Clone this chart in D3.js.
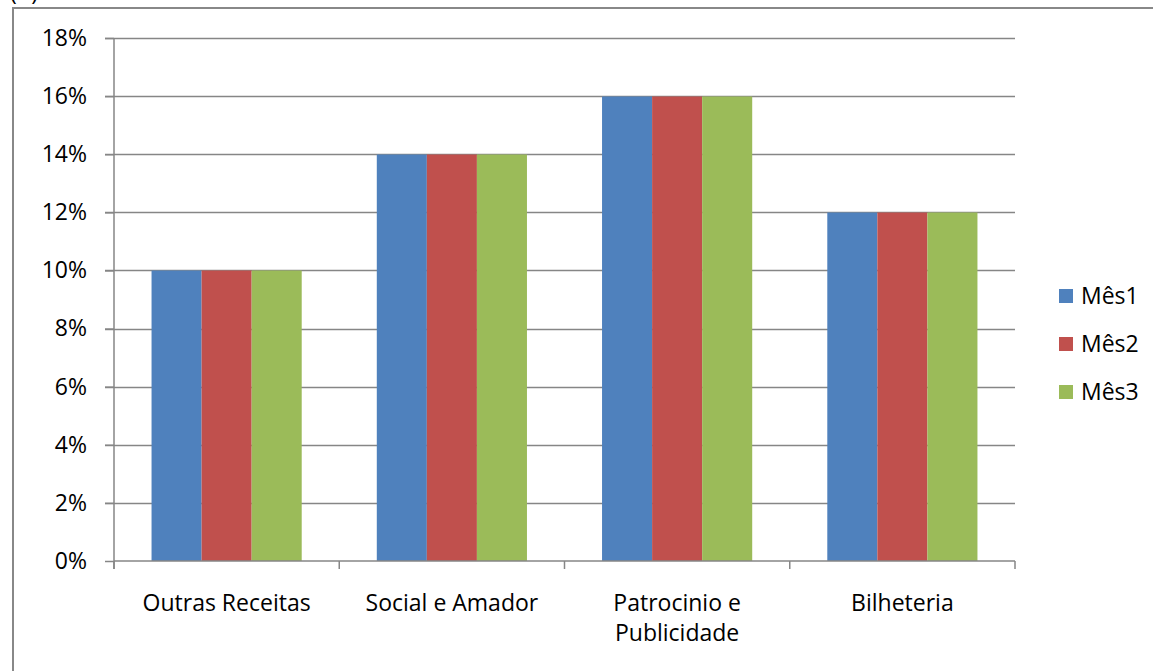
<!DOCTYPE html>
<html><head><meta charset="utf-8">
<script src="https://cdn.jsdelivr.net/npm/d3@7"></script>
<style>body{margin:0;background:#fff}svg{display:block}text{font-family:"Open Sans",sans-serif;fill:#000}</style>
</head><body>
<svg id="c" width="1153" height="671"></svg>
<script>
const categories = ["Outras Receitas", "Social e Amador", "Patrocinio e Publicidade", "Bilheteria"];
const categoryLines = [["Outras Receitas"], ["Social e Amador"], ["Patrocinio e", "Publicidade"], ["Bilheteria"]];
const seriesNames = ["Mês1", "Mês2", "Mês3"];
const mes1 = [0.10, 0.14, 0.16, 0.12];
const mes2 = [0.10, 0.14, 0.16, 0.12];
const mes3 = [0.10, 0.14, 0.16, 0.12];
const seriesValues = [mes1, mes2, mes3];
const colors = ["#4F81BD", "#C0504D", "#9BBB59"];
const yTicks = [0, 0.02, 0.04, 0.06, 0.08, 0.10, 0.12, 0.14, 0.16, 0.18];

const FONT = "'Open Sans', sans-serif";
const FS = 23;
const svg = d3.select("#c");
const pLeft = 114, pRight = 1015, pTop = 38, pBottom = 561;
const axisColor = "#868686";

// outer frame
svg.append("rect").attr("x", 13).attr("y", 8).attr("width", 1200).attr("height", 700)
  .attr("fill", "none").attr("stroke", "#888").attr("stroke-width", 2);
svg.append("text").attr("x", 10).attr("y", 0).attr("font-size", FS).text("(A)");

const y = d3.scaleLinear().domain([0, 0.18]).range([pBottom, pTop]);
const x0 = d3.scaleBand().domain(categories).range([pLeft, pRight]).paddingInner(0).paddingOuter(0);
const x1 = d3.scaleBand().domain(seriesNames).range([0, x0.bandwidth()]).paddingOuter(0.75).paddingInner(0);

// gridlines
svg.append("g").selectAll("line").data(yTicks.filter(d => d > 0)).join("line")
  .attr("x1", pLeft - 9).attr("x2", pRight)
  .attr("y1", d => Math.round(y(d)) + 0.5).attr("y2", d => Math.round(y(d)) + 0.5)
  .attr("stroke", axisColor).attr("stroke-width", 1.5);

// bars
const groups = svg.append("g").selectAll("g").data(categories).join("g")
  .attr("transform", d => `translate(${x0(d)},0)`);
groups.selectAll("rect").data((d, i) => seriesNames.map((s, j) => ({s, v: seriesValues[j][i], j})))
  .join("rect")
  .attr("x", d => x1(d.s)).attr("width", x1.bandwidth())
  .attr("y", d => Math.round(y(d.v)) + 0.5).attr("height", d => y(0) - Math.round(y(d.v)) - 0.5)
  .attr("fill", d => colors[d.j]);

// y axis
const yAxis = d3.axisLeft(y).tickValues(yTicks).tickFormat(d3.format(".0%")).tickSize(9).tickPadding(18);
const gy = svg.append("g").attr("transform", `translate(${pLeft},0)`).call(yAxis);
gy.select(".domain").attr("stroke", axisColor).attr("stroke-width", 1.5).attr("d", `M0,${pTop}V${pBottom + 8}`);
gy.selectAll(".tick line").attr("stroke", axisColor).attr("stroke-width", 1.5);
gy.selectAll(".tick text").attr("font-size", FS).attr("font-family", FONT).attr("fill", "#000");

// x axis
const xAxis = d3.axisBottom(x0).tickSize(0).tickFormat("");
const gx = svg.append("g").attr("transform", `translate(0,${pBottom})`).call(xAxis);
gx.select(".domain").attr("stroke", axisColor).attr("stroke-width", 1.5).attr("d", `M${pLeft},0H${pRight}`);
const boundaries = categories.map(c => x0(c)).concat([pRight]);
gx.selectAll(".bound").data(boundaries).join("line").attr("class", "bound")
  .attr("x1", d => d).attr("x2", d => d).attr("y1", 0).attr("y2", 8)
  .attr("stroke", axisColor).attr("stroke-width", 1.5);

// x labels
const xl = svg.append("g").selectAll("text").data(categories).join("text")
  .attr("x", d => x0(d) + x0.bandwidth() / 2).attr("text-anchor", "middle").attr("font-size", FS);
xl.each(function(d, i) {
  d3.select(this).selectAll("tspan").data(categoryLines[i]).join("tspan")
    .attr("x", x0(d) + x0.bandwidth() / 2).attr("y", (t, k) => 611 + k * 30).text(t => t);
});

// legend
const lg = svg.append("g").selectAll("g").data(seriesNames).join("g")
  .attr("transform", (d, i) => `translate(1059,${289 + i * 48})`);
lg.append("rect").attr("width", 14).attr("height", 14).attr("fill", (d, i) => colors[i]);
lg.append("text").attr("x", 22).attr("y", 15).attr("font-size", FS).text(d => d);
</script>
</body></html>
